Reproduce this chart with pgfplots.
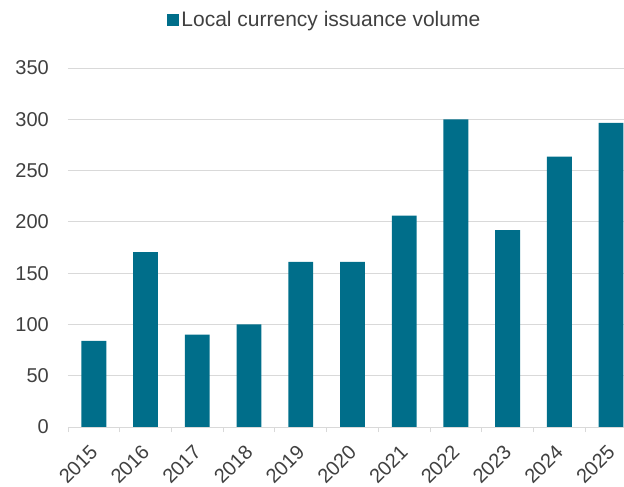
\documentclass[border=0pt]{standalone}
\usepackage{pgfplots}
\pgfplotsset{compat=1.18}
\usepackage{fontspec}
\setmainfont{Liberation Sans}
\definecolor{barteal}{HTML}{006E8A}
\definecolor{txt}{HTML}{404040}
\definecolor{gridc}{HTML}{D9D9D9}
\begin{document}
\begin{tikzpicture}
\begin{axis}[
  at={(0,0)}, anchor=south west,
  scale only axis,
  width=556pt, height=359pt,
  xmin=-0.5, xmax=10.25,
  ymin=0, ymax=350,
  ytick={0,50,...,350},
  xtick={0,...,10},
  xticklabels={2015,2016,2017,2018,2019,2020,2021,2022,2023,2024,2025},
  major tick length=0pt,
  extra x ticks={-0.5,0.5,...,9.5},
  extra x tick style={major tick length=5pt, tick style={draw=gridc, line width=0.8pt}, tick align=outside, grid=none, xticklabel={}},
  ymajorgrids,
  grid style={draw=gridc, line width=0.8pt},
  axis x line*=bottom,
  axis y line*=left,
  y axis line style={draw=none},
  x axis line style={draw=gridc, line width=0.8pt, -},
  tick align=outside,
  font=\fontsize{20}{24}\selectfont,
  tick label style={text=txt},
  /pgf/number format/assume math mode=true,
  yticklabel style={inner sep=0pt, xshift=-19pt},
  xticklabel style={rotate=45, anchor=north east, inner sep=0pt, xshift=-15pt, yshift=-8pt},
  legend style={at={(0.462,1.134)}, anchor=center, draw=none, fill=none, font=\fontsize{21}{24}\selectfont, text=txt, legend cell align=left},
  legend image code/.code={\fill[barteal] (-3pt,-6pt) rectangle (9pt,6pt);},
  clip=true,
]
\addplot[ybar, bar width=0.48, fill=barteal, draw=none] coordinates {
 (0,84) (1,170.5) (2,90) (3,100) (4,161) (5,161) (6,206) (7,300) (8,192) (9,263.5) (10,296.5)
};
\addlegendentry{Local currency issuance volume}
\end{axis}
\pgfresetboundingbox
\useasboundingbox (-68pt,-60pt) rectangle (556pt,427pt);
\end{tikzpicture}
\end{document}
